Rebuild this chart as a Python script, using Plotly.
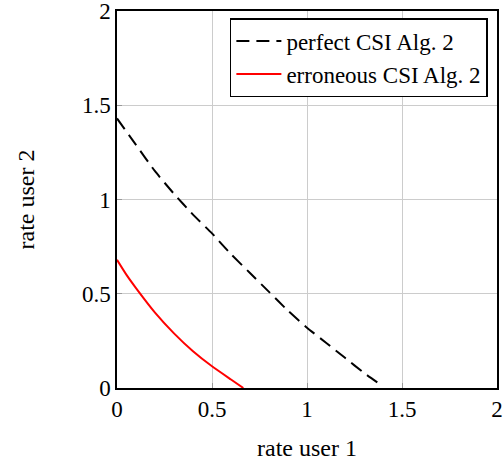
import plotly.graph_objects as go

# perfect CSI Alg. 2
perfect_x = [0.0, 0.1, 0.2, 0.3, 0.4, 0.5, 0.6, 0.7, 0.8, 0.9, 1.0, 1.1, 1.2, 1.3, 1.37]
perfect_y = [1.43, 1.29, 1.15, 1.03, 0.92, 0.82, 0.71, 0.61, 0.51, 0.41, 0.32, 0.24, 0.16, 0.08, 0.03]

# erroneous CSI Alg. 2
err_x = [0.0, 0.05, 0.1, 0.2, 0.3, 0.4, 0.5, 0.6, 0.665]
err_y = [0.68, 0.60, 0.53, 0.40, 0.29, 0.195, 0.115, 0.045, 0.0]

tick_vals = [0, 0.5, 1, 1.5, 2]
tick_text = ["0", "0.5", "1", "1.5", "2"]

serif = "Liberation Serif, Times New Roman, serif"

fig = go.Figure()
fig.add_trace(go.Scatter(x=perfect_x, y=perfect_y, mode="lines",
                         name="perfect CSI Alg. 2",
                         line=dict(color="black", width=2, dash="13px,7px", shape="spline", smoothing=0.5)))
fig.add_trace(go.Scatter(x=err_x, y=err_y, mode="lines",
                         name="erroneous CSI Alg. 2",
                         line=dict(color="red", width=2, shape="spline", smoothing=0.5)))

axis_common = dict(
    range=[0, 2], tickvals=tick_vals, ticktext=tick_text, automargin=False,
    ticklabeloverflow="allow",
    showgrid=True, gridcolor="#cccccc", gridwidth=1,
    showline=True, linecolor="black", linewidth=1.5, mirror=True,
    ticks="inside", ticklen=5, tickcolor="#999999", tickwidth=1,
    zeroline=False, tickfont=dict(family=serif, size=23, color="black"),
)

fig.update_layout(
    width=503, height=461,
    margin=dict(l=117, r=6, t=11, b=73),
    paper_bgcolor="white", plot_bgcolor="white",
    showlegend=True,
    legend=dict(x=0.976, y=0.981, xanchor="right", yanchor="top",
                bordercolor="black", borderwidth=1.5, bgcolor="white",
                font=dict(family=serif, size=23, color="black"),
                itemwidth=45, tracegroupgap=0),
    xaxis=dict(**axis_common,
               title=dict(text="rate user 1", font=dict(family=serif, size=24, color="black"), standoff=20)),
    yaxis=dict(**axis_common,
               title=dict(text="rate user 2", font=dict(family=serif, size=24, color="black"), standoff=41)),
)

fig.write_html("out.html")
